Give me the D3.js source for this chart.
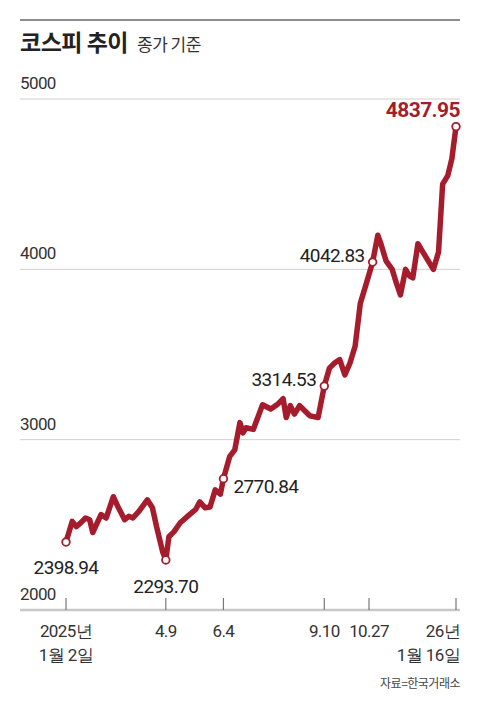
<!DOCTYPE html>
<html><head><meta charset="utf-8">
<script src="https://cdn.jsdelivr.net/npm/d3@7"></script>
<style>
body{margin:0;background:#fff;}
text{font-family:"Liberation Sans Narrow",Roboto,sans-serif;letter-spacing:-0.6px;}
.kr{font-family:"Noto Sans CJK KR",sans-serif;letter-spacing:-0.5px;}
</style></head><body>
<svg id="c" width="480" height="708"></svg>
<script>
var dates = ["2025-01-02","2025-01-08","2025-01-12","2025-01-16","2025-01-21","2025-01-25","2025-01-28","2025-02-05","2025-02-10","2025-02-17","2025-02-22","2025-02-28","2025-03-04","2025-03-08","2025-03-14","2025-03-22","2025-03-27","2025-03-31","2025-04-06","2025-04-09","2025-04-12","2025-04-17","2025-04-23","2025-05-02","2025-05-08","2025-05-12","2025-05-17","2025-05-22","2025-05-27","2025-06-01","2025-06-04","2025-06-10","2025-06-15","2025-06-20","2025-06-23","2025-06-26","2025-07-03","2025-07-12","2025-07-20","2025-07-27","2025-08-01","2025-08-04","2025-08-08","2025-08-12","2025-08-17","2025-08-22","2025-08-27","2025-09-04","2025-09-10","2025-09-15","2025-09-20","2025-09-25","2025-09-30","2025-10-05","2025-10-10","2025-10-15","2025-10-20","2025-10-27","2025-11-01","2025-11-04","2025-11-09","2025-11-15","2025-11-19","2025-11-23","2025-11-28","2025-12-02","2025-12-05","2025-12-10","2025-12-15","2025-12-20","2025-12-25","2025-12-30","2026-01-03","2026-01-08","2026-01-12","2026-01-16"];
var closes = [2398.94,2520,2490,2510,2540,2530,2455,2560,2540,2665,2600,2530,2550,2540,2580,2647,2600,2490,2340,2293.70,2430,2460,2512,2560,2590,2635,2600,2605,2705,2680,2770.84,2900,2940,3100,3040,3070,3060,3205,3180,3210,3240,3130,3200,3150,3200,3170,3140,3130,3314.53,3420,3450,3470,3380,3450,3550,3800,3900,4042.83,4200,4150,4050,4000,3920,3850,4000,3960,3950,4150,4100,4050,4000,4100,4500,4550,4650,4837.95];
var yTicks = [2000,3000,4000,5000];
var xTickDates = ["2025-01-02","2025-04-09","2025-06-04","2025-09-10","2025-10-27","2026-01-16"];
var xTickLabels = [["2025년","1월 2일"],["4.9"],["6.4"],["9.10"],["10.27"],["26년","1월 16일"]];
var callouts = [
  {date:"2025-01-02", v:2398.94, dx:0, dy:26, anchor:"middle"},
  {date:"2025-04-09", v:2293.70, dx:0, dy:27, anchor:"middle"},
  {date:"2025-06-04", v:2770.84, dx:10, dy:8, anchor:"start"},
  {date:"2025-09-10", v:3314.53, dx:-8, dy:-6, anchor:"end"},
  {date:"2025-10-27", v:4042.83, dx:-8, dy:-6, anchor:"end"},
  {date:"2026-01-16", v:4837.95, dx:4, dy:-16, anchor:"end", last:true}
];
var parse = d3.timeParse("%Y-%m-%d");
var red = "#a51c2c";
var svg = d3.select("#c");
var x = d3.scaleTime().domain([parse("2025-01-02"), parse("2026-01-16")]).range([66, 456]);
var y = d3.scaleLinear().domain([2000, 5000]).range([610, 99]);

svg.append("rect").attr("x",20).attr("y",19).attr("width",440).attr("height",2).attr("fill","#8e8e8e");
svg.append("text").attr("class","kr").attr("x",20).attr("y",51).attr("font-size",23).attr("font-weight","bold").attr("fill","#222").text("코스피 추이");
svg.append("text").attr("class","kr").attr("x",137).attr("y",51).attr("font-size",17).attr("fill","#333").text("종가 기준");

yTicks.forEach(function(t){
  svg.append("line").attr("x1",20).attr("x2",460).attr("y1",y(t)).attr("y2",y(t))
    .attr("stroke", t===2000 ? "#c8c8c8" : "#cfcfcf").attr("stroke-width", t===2000 ? 2.5 : 1);
  svg.append("text").attr("x",20).attr("y",y(t)-10).attr("font-size",17).attr("fill","#333").text(t);
});

xTickDates.forEach(function(d,i){
  var xx = x(parse(d));
  if (i===4) xx = 369;
  svg.append("line").attr("x1",xx).attr("x2",xx).attr("y1",598).attr("y2",610).attr("stroke","#777").attr("stroke-width",1.2);
  var lab = xTickLabels[i];
  var anchor = i===5 ? "end" : "middle";
  var lx = i===5 ? 460 : xx;
  lab.forEach(function(s,j){
    svg.append("text").attr("x",lx).attr("y",637+j*24).attr("text-anchor",anchor)
      .attr("font-size",17).attr("fill","#333").text(s);
  });
});

var pts = dates.map(function(d,i){ return [parse(d), closes[i]]; });
svg.append("path").datum(pts)
  .attr("d", d3.line().x(function(d){return x(d[0]);}).y(function(d){return y(d[1]);}))
  .attr("fill","none").attr("stroke",red).attr("stroke-width",5.5).attr("stroke-linejoin","round").attr("stroke-linecap","round");

callouts.forEach(function(c){
  var cx = x(parse(c.date)), cy = y(c.v);
  svg.append("circle").attr("cx",cx).attr("cy",cy).attr("r",3.8).attr("fill","#fff").attr("stroke",red).attr("stroke-width",1.8);
  svg.append("text").attr("x", c.last ? 460 : cx + c.dx).attr("y", cy + c.dy + 6)
    .attr("text-anchor",c.anchor).attr("font-size", c.last ? 21 : 19)
    .attr("font-weight", c.last ? "bold" : "normal")
    .attr("fill", c.last ? red : "#222").text(c.v.toFixed(2));
});

svg.append("text").attr("class","kr").attr("x",460).attr("y",688).attr("text-anchor","end").attr("font-size",12).attr("fill","#444").text("자료=한국거래소");
</script></body></html>
